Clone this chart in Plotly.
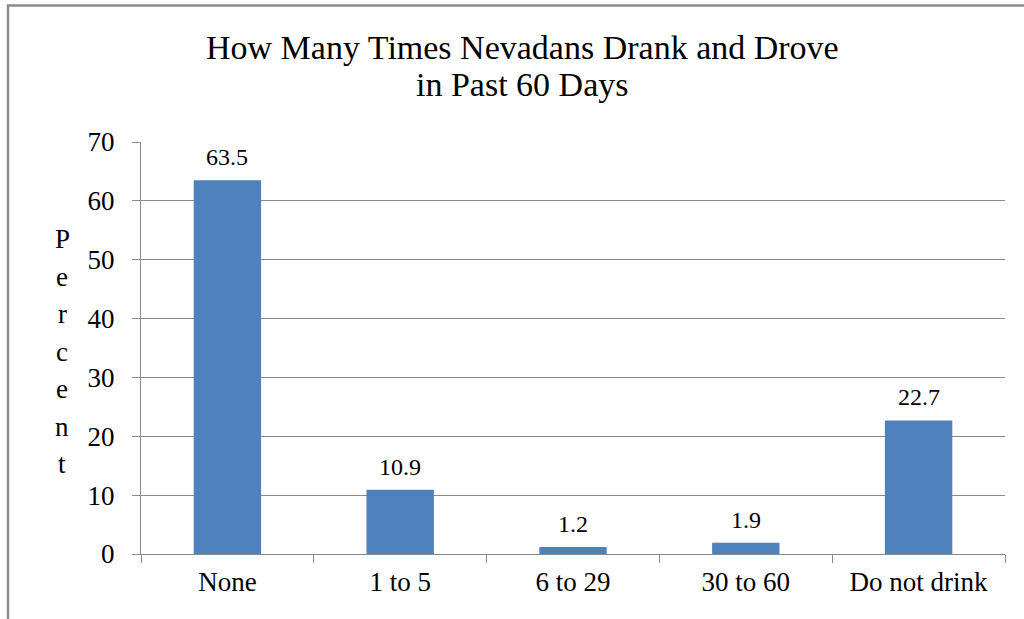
import plotly.graph_objects as go

# Survey results: how many times Nevadans drank and drove in the past 60 days
categories = ["None", "1 to 5", "6 to 29", "30 to 60", "Do not drink"]
percent = [63.5, 10.9, 1.2, 1.9, 22.7]
y_ticks = [0, 10, 20, 30, 40, 50, 60, 70]
title_lines = ["How Many Times Nevadans Drank and Drove", "in Past 60 Days"]
y_title = "Percent"

FONT = "Liberation Serif"
BAR = "#4F81BD"
GRID = "#8a8a8a"

W, H = 1024, 619
L, R, T, B = 141, 19, 142, 65
PW, PH = W - L - R, H - T - B


def px_x(px):
    return (px - L) / PW


def px_y(py):
    return (H - B - py) / PH


fig = go.Figure(
    go.Bar(
        x=categories,
        y=percent,
        width=0.39,
        marker=dict(color=BAR, line=dict(width=0)),
        hoverinfo="x+y",
    )
)

annotations = []
# value labels above the bars
for cat, val in zip(categories, percent):
    annotations.append(dict(
        x=cat, y=val, xref="x", yref="y",
        text=f"{val:.1f}", showarrow=False,
        xanchor="center", yanchor="bottom", yshift=8,
        font=dict(family=FONT, size=24, color="black"),
    ))

# two-line chart title
for text, py in zip(title_lines, [47, 85]):
    annotations.append(dict(
        x=px_x(522), y=px_y(py), xref="paper", yref="paper",
        text=text, showarrow=False, xanchor="center", yanchor="middle",
        font=dict(family=FONT, size=34, color="black"),
    ))

# vertical axis title, one upright letter per line
for i, ch in enumerate(y_title):
    annotations.append(dict(
        x=px_x(62), y=px_y(239 + i * 37.5), xref="paper", yref="paper",
        text=ch, showarrow=False, xanchor="center", yanchor="middle",
        font=dict(family=FONT, size=27, color="black"),
    ))

fig.update_layout(
    width=W, height=H,
    margin=dict(l=L, r=R, t=T, b=B, pad=0),
    paper_bgcolor="white", plot_bgcolor="white",
    font=dict(family=FONT, color="black"),
    showlegend=False,
    annotations=annotations,
    shapes=[dict(
        type="rect", xref="paper", yref="paper",
        x0=px_x(8), x1=px_x(1040), y0=px_y(660), y1=px_y(5.5),
        line=dict(color="#8c8c8c", width=2.5), fillcolor="rgba(0,0,0,0)",
        layer="above",
    )],
    xaxis=dict(
        type="category",
        showline=True, linecolor=GRID, linewidth=1,
        ticks="outside", tickson="boundaries", ticklen=8, tickcolor=GRID, tickwidth=1,
        showgrid=False, zeroline=False,
        tickfont=dict(family=FONT, size=27, color="black"),
        ticklabelstandoff=4,
    ),
    yaxis=dict(
        range=[0, 70], tickvals=y_ticks,
        showline=True, linecolor=GRID, linewidth=1,
        ticks="outside", ticklen=8, tickcolor=GRID, tickwidth=1,
        showgrid=True, gridcolor=GRID, gridwidth=1, zeroline=False,
        tickfont=dict(family=FONT, size=27, color="black"),
        ticklabelstandoff=12,
    ),
)

fig.write_html("out.html")
